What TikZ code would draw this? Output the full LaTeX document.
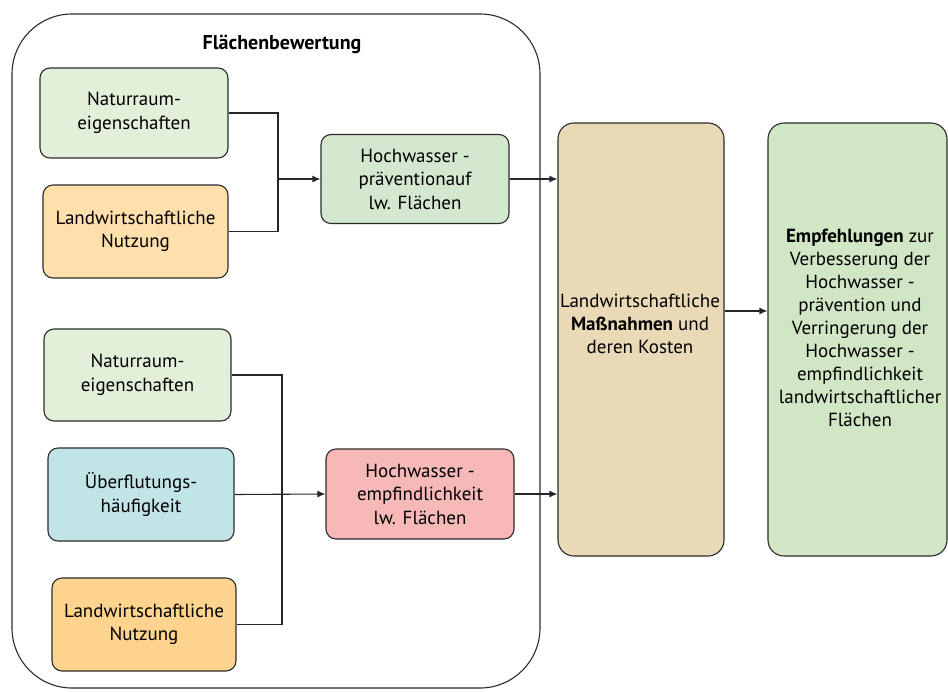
\documentclass[tikz,border=0pt]{standalone}
\usepackage{fontspec}
\setmainfont{PT Sans}
\usetikzlibrary{arrows.meta}
\definecolor{natgreen}{HTML}{E2EFD9}
\definecolor{lworange}{HTML}{FFE0AD}
\definecolor{lworangeb}{HTML}{FDD38E}
\definecolor{hwgreen}{HTML}{D4E8CF}
\definecolor{uebblue}{HTML}{C1E4E7}
\definecolor{hwpink}{HTML}{F7B9B8}
\definecolor{masstan}{HTML}{E9D9B6}
\definecolor{empgreen}{HTML}{D1E6C4}
\definecolor{edge}{HTML}{2B2B2B}
\tikzset{
  box/.style={draw=edge, line width=1.1pt, rounded corners=10pt, align=center,
    inner sep=0pt, font=\fontsize{19}{23.5}\selectfont},
  conn/.style={draw=black!85, line width=1.1pt},
  arr/.style={conn, -{Latex[length=8pt,width=7pt]}},
  txt/.style={align=center, inner sep=0pt, font=\fontsize{19}{23}\selectfont}
}
\begin{document}
\begin{tikzpicture}[x=1pt,y=-1pt]
\useasboundingbox (0,0) rectangle (948,691);
% outer frame
\draw[draw=edge, line width=1.1pt, rounded corners=60pt] (12,14) rectangle (540,688);
\node[txt, font=\fontsize{20}{23}\selectfont\bfseries] (title) at (282,44) {Flächenbewertung};
% top group
\node[box, fill=natgreen, minimum width=188pt, minimum height=90pt] (N1) at (134,113) {Naturraum-\\eigenschaften};
\node[box, fill=lworange, minimum width=185pt, minimum height=93pt] (L1) at (135.5,231.5) {Landwirtschaftliche\\Nutzung};
\node[box, fill=hwgreen, minimum width=188pt, minimum height=89pt] (H1) at (415,179) {Hochwasser -\\präventionauf\\lw. Flächen};
% bottom group
\node[box, fill=natgreen, minimum width=187pt, minimum height=92pt] (N2) at (137.5,375) {Naturraum-\\eigenschaften};
\node[box, fill=uebblue, minimum width=186pt, minimum height=93pt] (U) at (141,494.5) {Überflutungs-\\häufigkeit};
\node[box, fill=lworangeb, minimum width=184pt, minimum height=93pt] (L2) at (144,624.5) {Landwirtschaftliche\\Nutzung};
\node[box, fill=hwpink, minimum width=188pt, minimum height=90pt] (H2) at (420,494) {Hochwasser -\\empfindlichkeit\\lw. Flächen};
% right boxes
\node[box, fill=masstan, rounded corners=16pt, minimum width=166pt, minimum height=433pt] (M) at (641,339.5) {};
\node[txt] (Mt) at (640,324) {Landwirtschaftliche\\\textbf{Maßnahmen} und\\deren Kosten};
\node[box, fill=empgreen, rounded corners=16pt, minimum width=179pt, minimum height=433pt] (E) at (857.5,339.5) {};
\node[txt] (Et) at (860,328) {\textbf{Empfehlungen} zur\\Verbesserung der\\Hochwasser -\\prävention und\\Verringerung der\\Hochwasser -\\empfindlichkeit\\landwirtschaftlicher\\Flächen};
% connectors
\coordinate (j1) at (278,179);
\draw[conn] (N1.east) -| (j1) |- (L1.east);
\draw[arr] (j1) -- (H1.west);
\coordinate (j2) at (282,494);
\draw[conn] (N2.east) -| (j2) |- (L2.east);
\draw[arr] (U.east) -- (H2.west);
\draw[arr] (H1.east) -- (H1.east -| M.west);
\draw[arr] (H2.east) -- (H2.east -| M.west);
\draw[arr] ([yshift=28.5pt]M.east) -- ([yshift=28.5pt]E.west);
\end{tikzpicture}
\end{document}
